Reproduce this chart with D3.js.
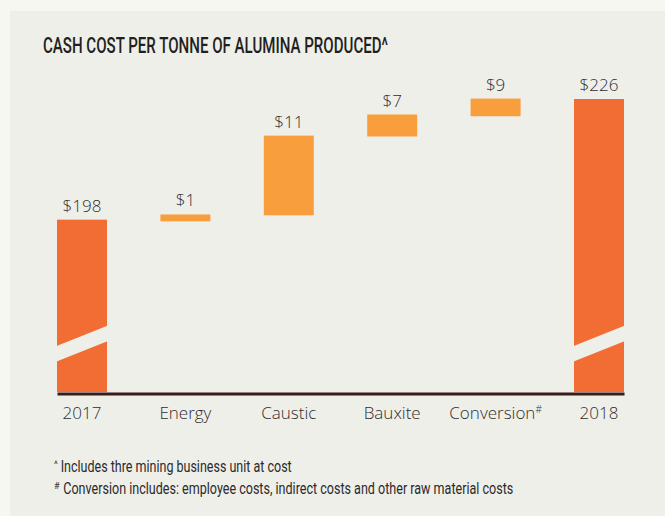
<!DOCTYPE html>
<html>
<head>
<meta charset="utf-8">
<script src="https://cdn.jsdelivr.net/npm/d3@7"></script>
<style>
  html, body { margin: 0; padding: 0; background: #f7f7f2; }
  svg { display: block; }
  .cond { font-family: Roboto, "Liberation Sans", sans-serif; }
  .lab { font-family: "Open Sans", "Noto Sans", sans-serif; font-weight: 300; fill: #2e2e2e; }
</style>
</head>
<body>
<script>
// ---- data ----
const categories = ["2017", "Energy", "Caustic", "Bauxite", "Conversion", "2018"];
const barKinds   = ["total", "step", "step", "step", "step", "total"];
// bar extents in $/t as drawn (low, high)
const barLow     = [158, 197.6, 199.0, 217.3, 222.0, 158];
const barHigh    = [198, 199.2, 217.5, 222.4, 226.1, 226];
const valueLabels = ["$198", "$1", "$11", "$7", "$9", "$226"];
const superscripts = ["", "", "", "", "#", ""];
const yDomain = [158, 226];
const title = "CASH COST PER TONNE OF ALUMINA PRODUCED^";
const footnoteMarks = ["^", "#"];
const footnoteTexts = [
  "Includes thre mining business unit at cost",
  "Conversion includes: employee costs, indirect costs and other raw material costs"
];

const W = 665, H = 516;
const svg = d3.select("body").append("svg").attr("width", W).attr("height", H);

// background panel
svg.append("rect").attr("x", 10).attr("y", 11).attr("width", W - 10).attr("height", H - 11).attr("fill", "#efefea");

const x = d3.scaleBand().domain(categories).range([57, 624]).paddingInner(0.5165).paddingOuter(0);
const y = d3.scaleLinear().domain(yDomain).range([392, 99]);

const colors = {total: "#f26d33", step: "#f89e3d"};

// title
svg.append("text").attr("class", "cond")
  .attr("x", 43).attr("y", 53)
  .attr("textLength", 345).attr("lengthAdjust", "spacingAndGlyphs")
  .attr("font-size", 22.5).attr("font-weight", 500).attr("fill", "#231f20")
  .text(title);

const data = categories.map((c, i) => ({c, kind: barKinds[i], lo: barLow[i], hi: barHigh[i], label: valueLabels[i], sup: superscripts[i]}));

// bars
svg.selectAll("rect.bar").data(data).join("rect").attr("class", "bar")
  .attr("x", d => x(d.c)).attr("width", x.bandwidth())
  .attr("y", d => y(d.hi)).attr("height", d => y(d.lo) - y(d.hi))
  .attr("fill", d => colors[d.kind]);

// axis break stripes on the total bars
const bw = x.bandwidth();
svg.selectAll("path.brk").data(data.filter(d => d.kind === "total")).join("path").attr("class", "brk")
  .attr("d", d => {
    const x0 = x(d.c) - 1, x1 = x(d.c) + bw + 1;
    const yl = y(165), rise = 20 * (bw + 2) / bw, th = 15.6;
    return `M${x0},${yl}L${x1},${yl - rise}L${x1},${yl - rise - th}L${x0},${yl - th}Z`;
  })
  .attr("fill", "#efefea");

// baseline axis
const xAxis = d3.axisBottom(x).tickSize(0).tickPadding(13);
const gx = svg.append("g").attr("transform", `translate(0,${y(yDomain[0]) + 1.5})`).call(xAxis);
gx.select(".domain").attr("stroke", "#3b1a1a").attr("stroke-width", 3);
gx.selectAll(".tick text").attr("class", "lab").attr("font-size", 17)
  .attr("font-family", null).attr("fill", null)
  .each(function(d, i) {
    if (superscripts[i]) {
      d3.select(this).append("tspan").attr("font-size", 10).attr("dy", -6).text(superscripts[i]);
    }
  });

// value labels
svg.selectAll("text.val").data(data).join("text").attr("class", "lab val")
  .attr("x", d => x(d.c) + bw / 2).attr("y", d => y(d.hi) - 8)
  .attr("text-anchor", "middle").attr("font-size", 17)
  .text(d => d.label);

// footnotes
const fnX = [60.7, 63.3], fnLen = [231, 450];
footnoteTexts.forEach((txt, i) => {
  const yy = 472 + i * 21.5;
  svg.append("text").attr("class", "cond").attr("x", 54).attr("y", yy - 5)
    .attr("font-size", 9).attr("font-weight", 400).attr("fill", "#2e2e2e").text(footnoteMarks[i]);
  svg.append("text").attr("class", "cond").attr("x", fnX[i]).attr("y", yy)
    .attr("font-size", 16.5).attr("font-weight", 400).attr("fill", "#2a2a2a")
    .attr("textLength", fnLen[i]).attr("lengthAdjust", "spacingAndGlyphs")
    .text(txt);
});
</script>
</body>
</html>
